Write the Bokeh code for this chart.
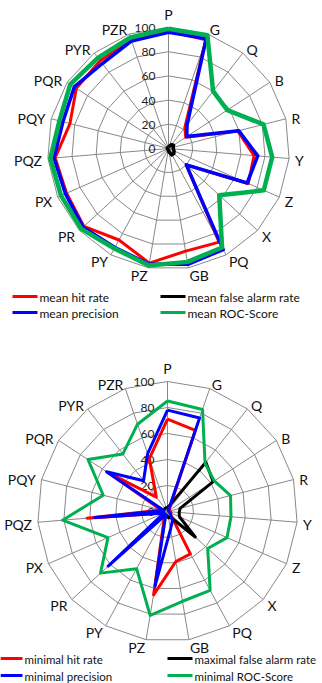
import numpy as np
from bokeh.plotting import figure
from bokeh.models import Range1d, ColumnDataSource
from bokeh.core.properties import value
from bokeh.embed import file_html
from bokeh.resources import INLINE

# ---------------- data ----------------
categories = ["P", "G", "Q", "B", "R", "Y", "Z", "X", "PQ", "GB",
              "PZ", "PY", "PR", "PX", "PQZ", "PQY", "PQR", "PYR", "PZR"]
ticks = [0, 20, 40, 60, 80, 100]

# chart 1 (means)
mean_hit_rate = [97, 95, 22, 17, 59, 71, 72, 20, 88, 86, 96, 86, 95, 92, 94, 84, 91, 92, 95]
mean_false_alarm_rate = [1, 2, 4, 5, 4, 4, 5, 6, 6, 3, 1, 1, 1, 1, 1, 1, 1, 1, 1]
mean_precision = [96, 96, 25, 18, 60, 74, 71, 20, 95, 97, 97, 93, 96, 93, 95, 90, 93, 89, 94]
mean_roc_score = [99, 99, 60, 58, 81, 86, 86, 57, 93, 95, 98, 94, 98, 97, 98, 93, 97, 95, 97]
legend1 = ["mean hit rate", "mean false alarm rate", "mean precision", "mean ROC-Score"]

# chart 2 (extremes)
minimal_hit_rate = [71, 66, 2, 2, 2, 2, 3, 3, 37, 39, 65, 5, 3, 3, 62, 5, 55, 14, 43]
maximal_false_alarm_rate = [3, 5, 48, 42, 10, 9, 10, 29, 5, 5, 3, 3, 3, 5, 5, 3, 3, 3, 3]
minimal_precision = [78, 76, 1, 1, 1, 1, 2, 3, 8, 14, 58, 3, 62, 3, 56, 3, 56, 30, 47]
minimal_roc_score = [85, 83, 47, 43, 50, 49, 50, 42, 69, 70, 81, 50, 70, 50, 81, 51, 73, 56, 71]
legend2 = ["minimal hit rate", "maximal false alarm rate", "minimal precision", "minimal ROC-Score"]

# ---------------- style ----------------
RED, BLACK, BLUE, GREEN = "#FF0000", "#000000", "#0000FF", "#00B050"
GRID = "#888888"
FONT = "Lato"
W, H = 322, 683

p = figure(width=W, height=H, x_range=Range1d(0, W), y_range=Range1d(H, 0),
           output_backend="svg", toolbar_location=None, min_border=0)
p.axis.visible = False
p.grid.visible = False
p.outline_line_color = None

n = len(categories)
theta = np.arange(n) * 2 * np.pi / n
VMAX = ticks[-1]


def to_xy(vals, cx, cy, R):
    r = np.asarray(vals, dtype=float) / VMAX * R
    return cx + r * np.sin(theta), cy - r * np.cos(theta)


def closed(a):
    return np.append(a, a[0])


def radar(cx, cy, R, series, widths, labels, leg_y, leg_x, leg_font):
    # rings
    for t in ticks[1:]:
        x, y = to_xy([t] * n, cx, cy, R)
        p.line(closed(x), closed(y), line_color=GRID, line_width=1)
    # spokes
    xo, yo = to_xy([VMAX] * n, cx, cy, R)
    p.multi_line([[cx, a] for a in xo], [[cy, b] for b in yo], line_color=GRID, line_width=1)
    # tick labels
    p.text(x=[cx - 13] * len(ticks), y=[cy - t / VMAX * R + 0.5 for t in ticks],
           text=[str(t) for t in ticks], text_align="right", text_baseline="middle",
           text_font=value(FONT), text_font_size="12px", text_color="#222222")
    # category labels
    s, c = np.sin(theta), np.cos(theta)
    gap = 6 + 9 * (c > 0.99)
    lx = cx + (R + gap) * s
    ly = cy - (R + gap) * c + 1.5
    align = ["left" if v > 0.05 else ("right" if v < -0.05 else "center") for v in s]
    src = ColumnDataSource(dict(x=lx, y=ly, t=categories, a=align))
    p.text(x="x", y="y", text="t", text_align="a", source=src, text_baseline="middle",
           text_font=value(FONT), text_font_size="14px", text_color="#111111")
    # series
    colors = [RED, BLACK, BLUE, GREEN]
    for vals, col, lw in zip(series, colors, widths):
        x, y = to_xy(vals, cx, cy, R)
        p.line(closed(x), closed(y), line_color=col, line_width=lw, line_join="round")
    # legend
    pos = [(leg_x[0], leg_y[0]), (leg_x[1], leg_y[0]), (leg_x[0], leg_y[1]), (leg_x[1], leg_y[1])]
    for (x0, y0), lab, col in zip(pos, labels, colors):
        p.line([x0[0], x0[1]], [y0, y0], line_color=col, line_width=3)
        p.text(x=[x0[1] + 2], y=[y0 + 0.5], text=[lab], text_baseline="middle",
               text_font=value(FONT), text_font_size=leg_font, text_color="#111111")


radar(168, 148, 121,
      [mean_hit_rate, mean_false_alarm_rate, mean_precision, mean_roc_score],
      [3, 3.5, 3.5, 4.5], legend1, (296, 312), ((12, 37), (160, 185)), "12px")

radar(167, 511, 130,
      [minimal_hit_rate, maximal_false_alarm_rate, minimal_precision, minimal_roc_score],
      [3, 3, 3, 3], legend2, (658, 675), ((0, 22), (167, 192)), "11.5px")

open("out.html", "w").write(file_html(p, INLINE))
